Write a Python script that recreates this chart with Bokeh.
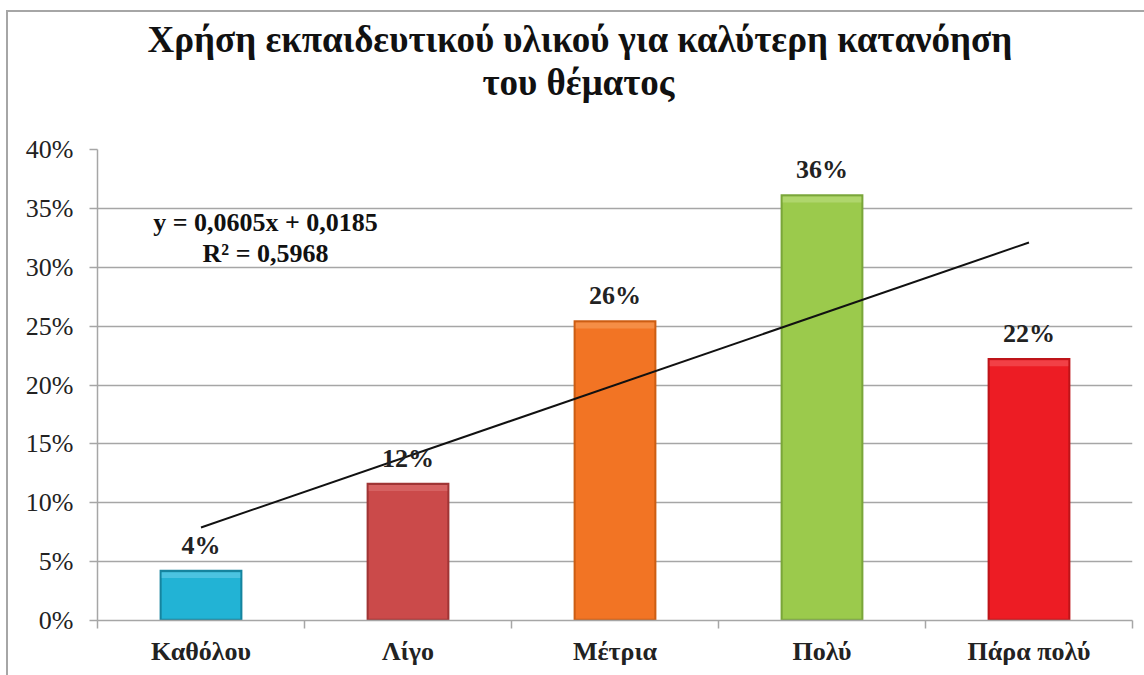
import numpy as np
from bokeh.plotting import figure
from bokeh.models import (ColumnDataSource, FixedTicker, NumeralTickFormatter,
                          Label, Range1d, Title)
from bokeh.core.properties import value
from bokeh.embed import file_html
from bokeh.resources import INLINE

# ---- data ----
categories = ["Καθόλου", "Λίγο", "Μέτρια", "Πολύ", "Πάρα πολύ"]
shares = [0.043, 0.117, 0.255, 0.362, 0.223]
share_labels = ["4%", "12%", "26%", "36%", "22%"]
y_ticks = [0.0, 0.05, 0.10, 0.15, 0.20, 0.25, 0.30, 0.35, 0.40]
title_lines = ["Χρήση εκπαιδευτικού υλικού για καλύτερη κατανόηση", "του θέματος"]
equation_lines = ["y = 0,0605x + 0,0185", "R² = 0,5968"]

main_colors = ["#22B3D5", "#CB4A4A", "#F27424", "#9BCA4C", "#ED1C24"]
edge_colors = ["#15849F", "#A03535", "#CC5E14", "#7AA63A", "#BE1419"]
top_colors = ["#5CCBE6", "#DA6C6C", "#F79A55", "#B8DC7A", "#F45055"]

SERIF = "Liberation Serif"

xs = list(range(1, len(categories) + 1))
src = ColumnDataSource(dict(
    x=xs, top=shares, lab=share_labels,
    main=main_colors, edge=edge_colors, light=top_colors,
    inner_top=[s - 0.002 for s in shares],
    bevel_bottom=[s - 0.007 for s in shares],
))

p = figure(width=1138, height=665, output_backend="svg", toolbar_location=None,
           x_range=Range1d(0.5, 5.5), y_range=Range1d(0, 0.4),
           min_border_left=89, min_border_right=14, min_border_top=137,
           min_border_bottom=57)
p.outline_line_color = None
p.background_fill_color = "white"
p.border_fill_color = "white"
p.styles = {"margin-left": "6px", "margin-top": "10px",
            "border-left": "2px solid #A6A6A6", "border-top": "2px solid #A6A6A6"}

# grid
p.xgrid.grid_line_color = None
p.ygrid.grid_line_color = "#A6A6A6"
p.ygrid.grid_line_width = 1.5
p.ygrid.ticker = FixedTicker(ticks=y_ticks)

# y axis
p.yaxis.ticker = FixedTicker(ticks=y_ticks)
p.yaxis.formatter = NumeralTickFormatter(format="0%")
p.yaxis.major_label_text_font = SERIF
p.yaxis.major_label_text_font_size = "26px"
p.yaxis.major_label_text_color = "#222222"
p.yaxis.major_label_standoff = 16
p.yaxis.major_tick_out = 8
p.yaxis.major_tick_in = 0
p.yaxis.minor_tick_line_color = None
p.yaxis.axis_line_color = "#A6A6A6"
p.yaxis.axis_line_width = 1.5
p.yaxis.major_tick_line_color = "#A6A6A6"
p.yaxis.major_tick_line_width = 1.5

# x axis
p.xaxis.ticker = FixedTicker(ticks=xs, minor_ticks=[x - 0.5 for x in xs] + [xs[-1] + 0.5])
p.xaxis.major_label_overrides = {x: c for x, c in zip(xs, categories)}
p.xaxis.major_tick_line_color = None
p.xaxis.major_tick_out = 0
p.xaxis.major_tick_in = 0
p.xaxis.minor_tick_out = 8
p.xaxis.minor_tick_in = 0
p.xaxis.minor_tick_line_color = "#A6A6A6"
p.xaxis.minor_tick_line_width = 1.5
p.xaxis.axis_line_color = "#A6A6A6"
p.xaxis.axis_line_width = 1.5
p.xaxis.major_label_text_font = SERIF
p.xaxis.major_label_text_font_size = "26px"
p.xaxis.major_label_text_font_style = "bold"
p.xaxis.major_label_text_color = "#222222"
p.xaxis.major_label_standoff = 8

# bars (bevelled look)
p.vbar(x="x", top="top", bottom=0, width=0.40, source=src,
       fill_color="edge", line_color=None)
p.vbar(x="x", top="inner_top", bottom=0.0015, width=0.38, source=src,
       fill_color="main", line_color=None)
p.vbar(x="x", top="inner_top", bottom="bevel_bottom", width=0.38, source=src,
       fill_color="light", line_color=None, fill_alpha=0.7)

# linear trend line from least squares
b, a = np.polyfit(np.array(xs, dtype=float), np.array(shares), 1)
tx = np.array([xs[0], xs[-1]], dtype=float)
p.line(tx, a + b * tx, line_color="#111111", line_width=2)

# data labels
p.text(x="x", y="top", text="lab", source=src, text_align="center",
       text_baseline="bottom", y_offset=-10,
       text_font=value(SERIF), text_font_size="26px", text_font_style="bold",
       text_color="#222222")

# equation
for i, t in enumerate(equation_lines):
    p.add_layout(Label(x=168, y=398 - 31 * i, x_units="screen", y_units="screen",
                       text=t, text_align="center", text_baseline="middle",
                       text_font=SERIF, text_font_size="26px",
                       text_font_style="bold", text_color="#111111"))

# title: spacer nearest the plot, then line 2, then line 1
p.add_layout(Title(text=" ", text_font_size="1px", standoff=44), "above")
p.add_layout(Title(text=title_lines[1], align="left", offset=385, standoff=0,
                   text_font=SERIF, text_font_size="37px", text_font_style="bold",
                   text_color="#111111"), "above")
p.add_layout(Title(text=title_lines[0], align="left", offset=50, standoff=0,
                   text_font=SERIF, text_font_size="37px", text_font_style="bold",
                   text_color="#111111"), "above")

open("out.html", "w").write(file_html(p, INLINE))
